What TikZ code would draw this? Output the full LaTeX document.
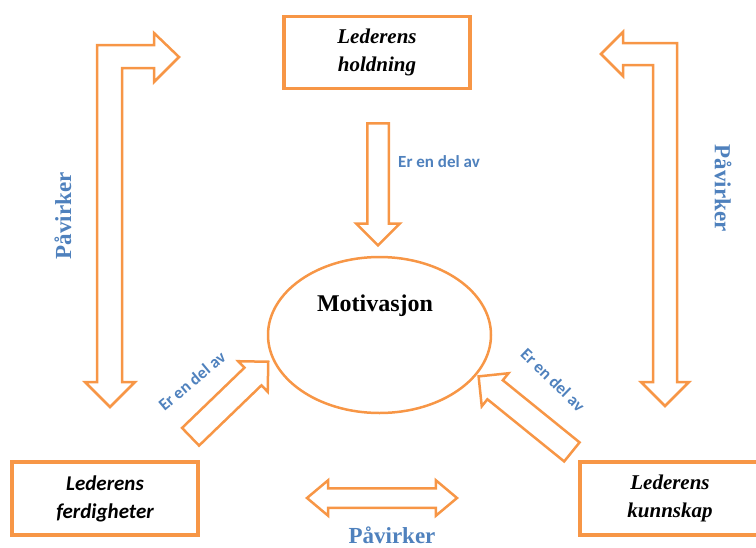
\documentclass[tikz,border=0pt]{standalone}
\usepackage{fontspec}
\setmainfont{Liberation Serif}
\newfontfamily\timesfont{Liberation Serif}[BoldItalicFont={Liberation Serif Bold Italic}]
\newfontfamily\calibri{Carlito}
\usetikzlibrary{shapes.geometric,shapes.arrows}
\definecolor{boxorange}{HTML}{F79646}
\definecolor{textblue}{HTML}{4F81BD}

\begin{document}
\begin{tikzpicture}[x=1pt, y=-1pt, line width=2.5pt,
    box/.style={draw=boxorange, line width=3.5pt, minimum width=186pt, minimum height=72pt, align=center, inner sep=0pt,
        font=\timesfont\bfseries\itshape\fontsize{21}{28}\selectfont},
    fatarrow/.style={draw=boxorange, single arrow, inner xsep=0pt, minimum height=#1},
    bluetxt/.style={text=textblue, font=\calibri\bfseries\fontsize{17}{20}\selectfont},
    bluebig/.style={text=textblue, font=\timesfont\bfseries\fontsize{23}{26}\selectfont}]
        \useasboundingbox (0,0) rectangle (756,547);

        \node[box] (LederHoldning) at (377,52.5) {Lederens\\holdning};
        \node[box, font=\calibri\bfseries\itshape\fontsize{21}{28}\selectfont, minimum height=73pt] (LederFerdigheter) at (105,498.5) {Lederens\\ferdigheter};
        \node[box, minimum width=180pt, minimum height=73pt] (LederKunnskap) at (670,498.5) {Lederens\\kunnskap};

        \node[ellipse, draw=boxorange, minimum width=223pt, minimum height=156pt, inner sep=0pt] (Motivasjon) at (379.5,335) {};
        \node[font=\timesfont\bfseries\fontsize{24}{28}\selectfont] (MotivTekst) at (375,306) {Motivasjon};

        % er en del av
        \node[fatarrow=122pt, inner ysep=9.5pt, single arrow head extend=11pt, rotate=-90] (PilHoldning) at (378,179) {};
        \node[bluetxt] (DelTopp) at (439,162) {Er en del av};
        \node[fatarrow=108pt, inner ysep=11pt, single arrow head extend=9pt, rotate=44] (PilFerdigheter) at (225,403.5) {};
        \node[bluetxt, rotate=40] (DelVenstre) at (192,381) {Er en del av};
        \node[fatarrow=120pt, inner ysep=11pt, single arrow head extend=9pt, rotate=141] (PilKunnskap) at (530,418) {};
        \node[bluetxt, rotate=-44] (DelHoyre) at (553,380) {Er en del av};

        % paavirker
        \draw[boxorange] (97,45) -- (154,45) -- (154,33) -- (179,57) -- (154,82) -- (154,68) -- (122,68)
            -- (122,382) -- (135,382) -- (110,407) -- (85,382) -- (97,382) -- cycle;
        \node[bluebig, rotate=90] (PaavirkerV) at (63,216) {Påvirker};
        \draw[boxorange] (677,43) -- (623,43) -- (623,32) -- (601,54) -- (623,76) -- (623,65) -- (653,65)
            -- (653,382) -- (641,382) -- (665,406) -- (689,382) -- (677,382) -- cycle;
        \node[bluebig, rotate=-90] (PaavirkerH) at (723,188) {Påvirker};
        \node[draw=boxorange, double arrow, inner xsep=0pt, inner ysep=8.5pt, double arrow head extend=8pt,
            double arrow tip angle=80, minimum height=150pt] (PilBunn) at (382,498) {};
        \node[bluebig, anchor=base] (PaavirkerB) at (392,543) {Påvirker};
    \end{tikzpicture}
\end{document}
